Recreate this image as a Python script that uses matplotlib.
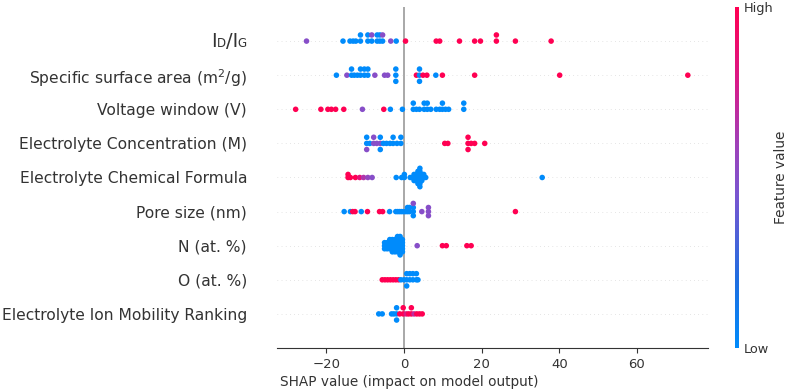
import numpy as np
import matplotlib
matplotlib.use("Agg")
import matplotlib.pyplot as plt
from matplotlib.colors import LinearSegmentedColormap, Normalize
from matplotlib.cm import ScalarMappable
from matplotlib.offsetbox import TextArea, HPacker, AnnotationBbox

# feature names, top to bottom
features = ["ID/IG", "Specific surface area (m$^{2}$/g)", "Voltage window (V)",
            "Electrolyte Concentration (M)", "Electrolyte Chemical Formula",
            "Pore size (nm)", "N (at. %)", "O (at. %)",
            "Electrolyte Ion Mobility Ranking"]

# SHAP values and (normalised) feature values for each row
idig_shap = [-25.1, -15.7, -13.9, -13.1, -12.4, -11.2, -11.2, -9.3, -9.3, -8.3, -8.3,
             -6.9, -6.9, -6.2, -6.2, -5.5, -5.5, -3.4, -2.0, 0.4, 8.3, 9.2, 14.3,
             18.2, 19.7, 23.8, 23.8, 28.7, 37.9]
idig_feat = [0.5, 0, 0, 0, 0, 0, 0, 0, 0, 0, 0.5, 0, 0, 0, 0, 0, 0.5, 0.5, 0, 1,
             1, 1, 1, 1, 1, 1, 1, 1, 1]

surface_shap = [-17.4, -14.7, -13.5, -13.5, -12.8, -12.0, -11.2, -11.2, -10.2, -10.2,
                -9.3, -9.3, -7.5, -5.0, -4.2, -2.1, -2.1, -2.1, 3.2, 4.0, 4.0, 4.0,
                4.9, 5.9, 8.2, 9.9, 18.2, 40.1, 73.1]
surface_feat = [0, 0.5, 0, 0, 0, 0, 0, 0, 0, 0, 0, 0, 0.5, 0.5, 0.5, 0, 0, 0, 1,
                0, 0, 0, 1, 1, 0, 1, 1, 1, 1]

voltage_shap = [-27.9, -21.4, -19.6, -18.7, -17.6, -15.5, -10.7, -5.2, -3.5, -0.4,
                2.4, 2.4, 3.2, 4.0, 5.2, 5.2, 6.0, 6.0, 6.9, 8.3, 9.2, 9.9, 9.9,
                10.7, 11.5, 15.4, 15.4]
voltage_feat = [1, 1, 1, 1, 1, 1, 0.5, 1, 0, 0, 0, 0, 0, 0, 0, 0, 0, 0, 0, 0, 0,
                0, 0, 0, 0, 0, 0]

conc_shap = [-9.6, -9.6, -9.6, -8.8, -7.8, -7.8, -7.0, -6.1, -6.1, -6.1, -5.3, -4.5,
             -3.6, -2.8, -2.8, -1.8, -0.8, -0.8, 10.5, 11.3, 16.5, 16.5, 16.5, 17.3,
             18.2, 20.8]
conc_feat = [0, 0, 0.5, 0, 0.5, 0.5, 0.5, 0.5, 0, 0, 0, 0, 0, 0, 0, 0, 0, 0, 1, 1,
             1, 1, 1, 1, 1, 1]

formula_shap = [-14.4, -14.4, -13.8, -12.5, -11.4, -10.4, -9.3, -8.2, -2.0, -0.6,
                0.1, 0.1, 1.6, 2.1, 2.6, 2.6, 2.6, 3.1, 3.1, 3.1, 3.6, 3.6, 3.6, 3.6,
                3.6, 4.1, 4.1, 4.1, 4.1, 4.1, 4.1, 4.1, 4.6, 4.6, 4.6, 5.1, 5.1, 5.6,
                35.6]
formula_feat = [1, 1, 1, 1, 0.85, 0.65, 0.55, 0.5, 0, 0, 0, 0, 0, 0, 0, 0, 0, 0,
                0, 0, 0, 0, 0, 0, 0, 0, 0, 0, 0, 0, 0, 0, 0, 0, 0, 0, 0, 0, 0]

pore_shap = [-15.4, -13.8, -13.2, -12.6, -11.0, -9.4, -6.3, -5.5, -3.7, -2.1, -1.6,
             -1.1, -0.6, -0.1, 0.4, 0.9, 0.9, 1.4, 1.4, 2.4, 2.4, 2.4, 2.4, 4.6,
             6.3, 6.3, 6.3, 28.7]
pore_feat = [0, 0, 1, 1, 0, 1, 1, 1, 0, 0, 0, 0, 0, 0, 0, 0, 0, 0, 0, 0, 0, 0, 0.5,
             0.5, 0.5, 0.5, 0.5, 1]

n_shap = [-5.0, -5.0, -5.0, -4.33, -4.33, -4.33, -3.66, -3.66, -3.66, -3.66,
          -3.0, -3.0, -3.0, -3.0, -3.0, -2.33, -2.33, -2.33, -2.33, -2.33,
          -1.66, -1.66, -1.66, -1.66, -1.66, -1.66, -1.0, -1.0, -1.0, -1.0, -1.0,
          -1.0, -1.0, -0.4, -0.4, -0.4, -0.4, -0.4, 3.4, 9.9, 10.9, 16.2, 17.3]
n_feat = [0, 0, 0, 0, 0, 0, 0, 0, 0, 0, 0, 0, 0, 0, 0, 0, 0, 0, 0, 0, 0, 0, 0, 0,
          0, 0, 0, 0, 0, 0, 0, 0, 0, 0, 0, 0, 0, 0, 0.5, 1, 1, 1, 1]

o_shap = [-5.6, -4.9, -4.2, -3.5, -2.8, -2.1, -1.4, -0.8, 0.0, 0.7, 0.7, 0.7, 1.5,
          1.5, 2.3, 2.3, 3.2, 3.2, 3.6]
o_feat = [1, 1, 1, 1, 1, 1, 1, 0, 0, 0, 0, 0, 0, 0, 0, 0, 0, 0, 0]

ion_shap = [-6.5, -5.6, -3.2, -2.6, -1.9, -1.9, -1.9, -1.1, -0.2, -0.2, 0.6, 1.2,
            1.9, 1.9, 2.6, 3.3, 4.0, 4.7]
ion_feat = [0, 0, 0, 0, 0, 0, 0, 1, 1, 1, 0.8, 1, 1, 1, 0.7, 1, 1, 1]

rows = [(idig_shap, idig_feat), (surface_shap, surface_feat), (voltage_shap, voltage_feat),
        (conc_shap, conc_feat), (formula_shap, formula_feat), (pore_shap, pore_feat),
        (n_shap, n_feat), (o_shap, o_feat), (ion_shap, ion_feat)]

cmap = LinearSegmentedColormap.from_list("red_blue", [
    (0.0, "#008bfb"), (0.2, "#1f6ee0"), (0.45, "#7a55d0"), (0.6, "#a040b8"),
    (0.78, "#d81a88"), (1.0, "#ff0052")])
txt = "#333333"


def swarm(vals, row_height=0.4, nbins=100):
    # same layering as shap's beeswarm
    vals = np.asarray(vals, float)
    quant = np.round(nbins * (vals - vals.min()) / (vals.max() - vals.min() + 1e-8))
    ys = np.zeros(len(vals))
    layer, last = 0, None
    for i in np.argsort(quant, kind="stable"):
        if quant[i] != last:
            layer = 0
        ys[i] = np.ceil(layer / 2) * ((layer % 2) * 2 - 1)
        layer += 1
        last = quant[i]
    ys *= 0.9 * (row_height / np.max(ys + 1))
    return ys


fig = plt.figure(figsize=(7.87, 3.92), dpi=100)
ax = fig.add_axes([277 / 787, 44 / 392, 431 / 787, 341 / 392])

n = len(features)
ax.axvline(0, color="#999999", lw=1.2, zorder=-1)
for i, (vals, feat) in enumerate(rows):
    pos = n - 1 - i
    ax.axhline(pos, color="#cccccc", lw=0.5, dashes=(1, 5), zorder=-1)
    ax.scatter(vals, pos + swarm(vals), c=cmap(np.asarray(feat, float)), s=16,
               linewidth=0, zorder=3)

ax.set_xlim(-32.7, 78.3)
ax.set_ylim(-1, n)
ax.set_xticks([-20, 0, 20, 40, 60])
ax.set_yticks(range(n))
labels = features[::-1]
labels[-1] = ""
ax.set_yticklabels(labels, fontsize=11.2)
ax.tick_params(axis="y", length=0, pad=21.6, labelcolor=txt)
ax.tick_params(axis="x", labelsize=9.5, color=txt, labelcolor=txt)
for s in ["top", "right", "left"]:
    ax.spines[s].set_visible(False)
ax.spines["bottom"].set_color(txt)
ax.set_xlabel("SHAP value (impact on model output)", fontsize=9.8, color=txt)
ax.xaxis.set_label_coords((409 - 277) / 431, -0.078)

# I_D/I_G label with small capitals on the baseline
big = dict(fontsize=14, color=txt)
small = dict(fontsize=8.6, color=txt)
pack = HPacker(children=[TextArea("I", textprops=big), TextArea("D", textprops=small),
                         TextArea("/I", textprops=big), TextArea("G", textprops=small)],
               align="baseline", pad=0, sep=0)
ab = AnnotationBbox(pack, (0, n - 1), xycoords=("axes fraction", "data"),
                    xybox=(-21.6, 0), boxcoords="offset points",
                    box_alignment=(1, 0.5), frameon=False, pad=0)
ax.add_artist(ab)

cax = fig.add_axes([735 / 787, 44 / 392, 4 / 787, 341 / 392])
sm = ScalarMappable(norm=Normalize(0, 1), cmap=cmap)
cb = fig.colorbar(sm, cax=cax, ticks=[0, 1])
cb.set_ticklabels(["Low", "High"])
cb.ax.tick_params(labelsize=9.3, length=0, labelcolor=txt)
cb.set_label("Feature value", size=9.8, labelpad=0, color=txt)
cb.outline.set_visible(False)

fig.savefig("out.png", dpi=100)
